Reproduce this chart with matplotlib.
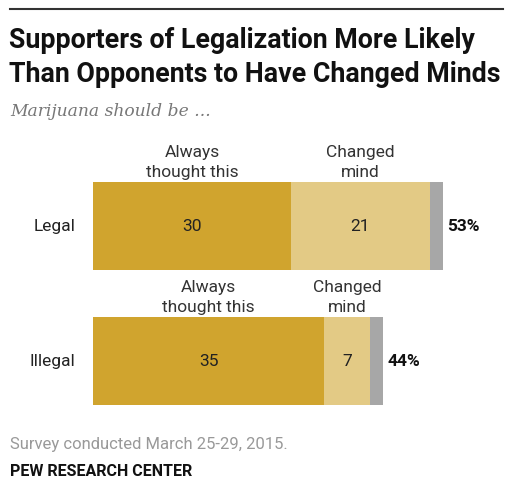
import matplotlib.pyplot as plt

categories = ["Legal", "Illegal"]
always = [30, 35]
changed = [21, 7]
dont_know = [2, 2]
totals = [53, 44]

c_always = "#D0A42E"
c_changed = "#E3CA85"
c_dk = "#A7A7A7"

W, H = 507, 504
fig = plt.figure(figsize=(W / 100, H / 100), dpi=100)
plt.rcParams["font.family"] = ["Roboto", "DejaVu Sans"]

def fx(px):
    return px / W

def fy(py):
    return 1 - py / H

# top rule
fig.add_artist(plt.Line2D([fx(10), fx(503)], [fy(9), fy(9)], color="#333333", lw=1.5))

fig.text(fx(9), fy(41), "Supporters of Legalization More Likely", fontsize=19.3,
         fontweight="bold", va="center", ha="left", color="#111111")
fig.text(fx(9), fy(74), "Than Opponents to Have Changed Minds", fontsize=19.3,
         fontweight="bold", va="center", ha="left", color="#111111")
fig.text(fx(10), fy(112), "Marijuana should be ...", fontsize=12.3, style="italic",
         family=["DejaVu Serif"], va="center", ha="left", color="#777777")

ax = fig.add_axes([fx(93), fy(420), 396 / W, 270 / H])
ax.set_xlim(0, 60)
ax.set_ylim(-0.437, 1.563)
ax.axis("off")

ypos = [1, 0]
bh = 0.645
ax.barh(ypos, always, height=bh, color=c_always)
ax.barh(ypos, changed, left=always, height=bh, color=c_changed)
left_dk = [a + c for a, c in zip(always, changed)]
ax.barh(ypos, dont_know, left=left_dk, height=bh, color=c_dk)

for y, cat, a, c, dk, t in zip(ypos, categories, always, changed, dont_know, totals):
    ax.text(-2.7, y, cat, ha="right", va="center", fontsize=12.5, color="#222222")
    ax.text(a / 2, y, str(a), ha="center", va="center", fontsize=12.5, color="#222222")
    ax.text(a + c / 2, y, str(c), ha="center", va="center", fontsize=12.5, color="#222222")
    ax.text(a + c + dk + 0.7, y, f"{t}%", ha="left", va="center", fontsize=12.5,
            fontweight="bold", color="#111111")
    ytop = y + bh / 2 + 0.02
    ax.text(a / 2, ytop, "Always\nthought this", ha="center", va="bottom", fontsize=12.5,
            color="#333333", linespacing=1.4)
    ax.text(a + c / 2, ytop, "Changed\nmind", ha="center", va="bottom", fontsize=12.5,
            color="#333333", linespacing=1.4)

fig.text(fx(10), fy(444), "Survey conducted March 25-29, 2015.", fontsize=12,
         color="#999999", va="center", ha="left")
fig.text(fx(10), fy(471), "PEW RESEARCH CENTER", fontsize=11.5, fontweight="bold",
         color="#111111", va="center", ha="left")

fig.savefig("out.png", dpi=100)
